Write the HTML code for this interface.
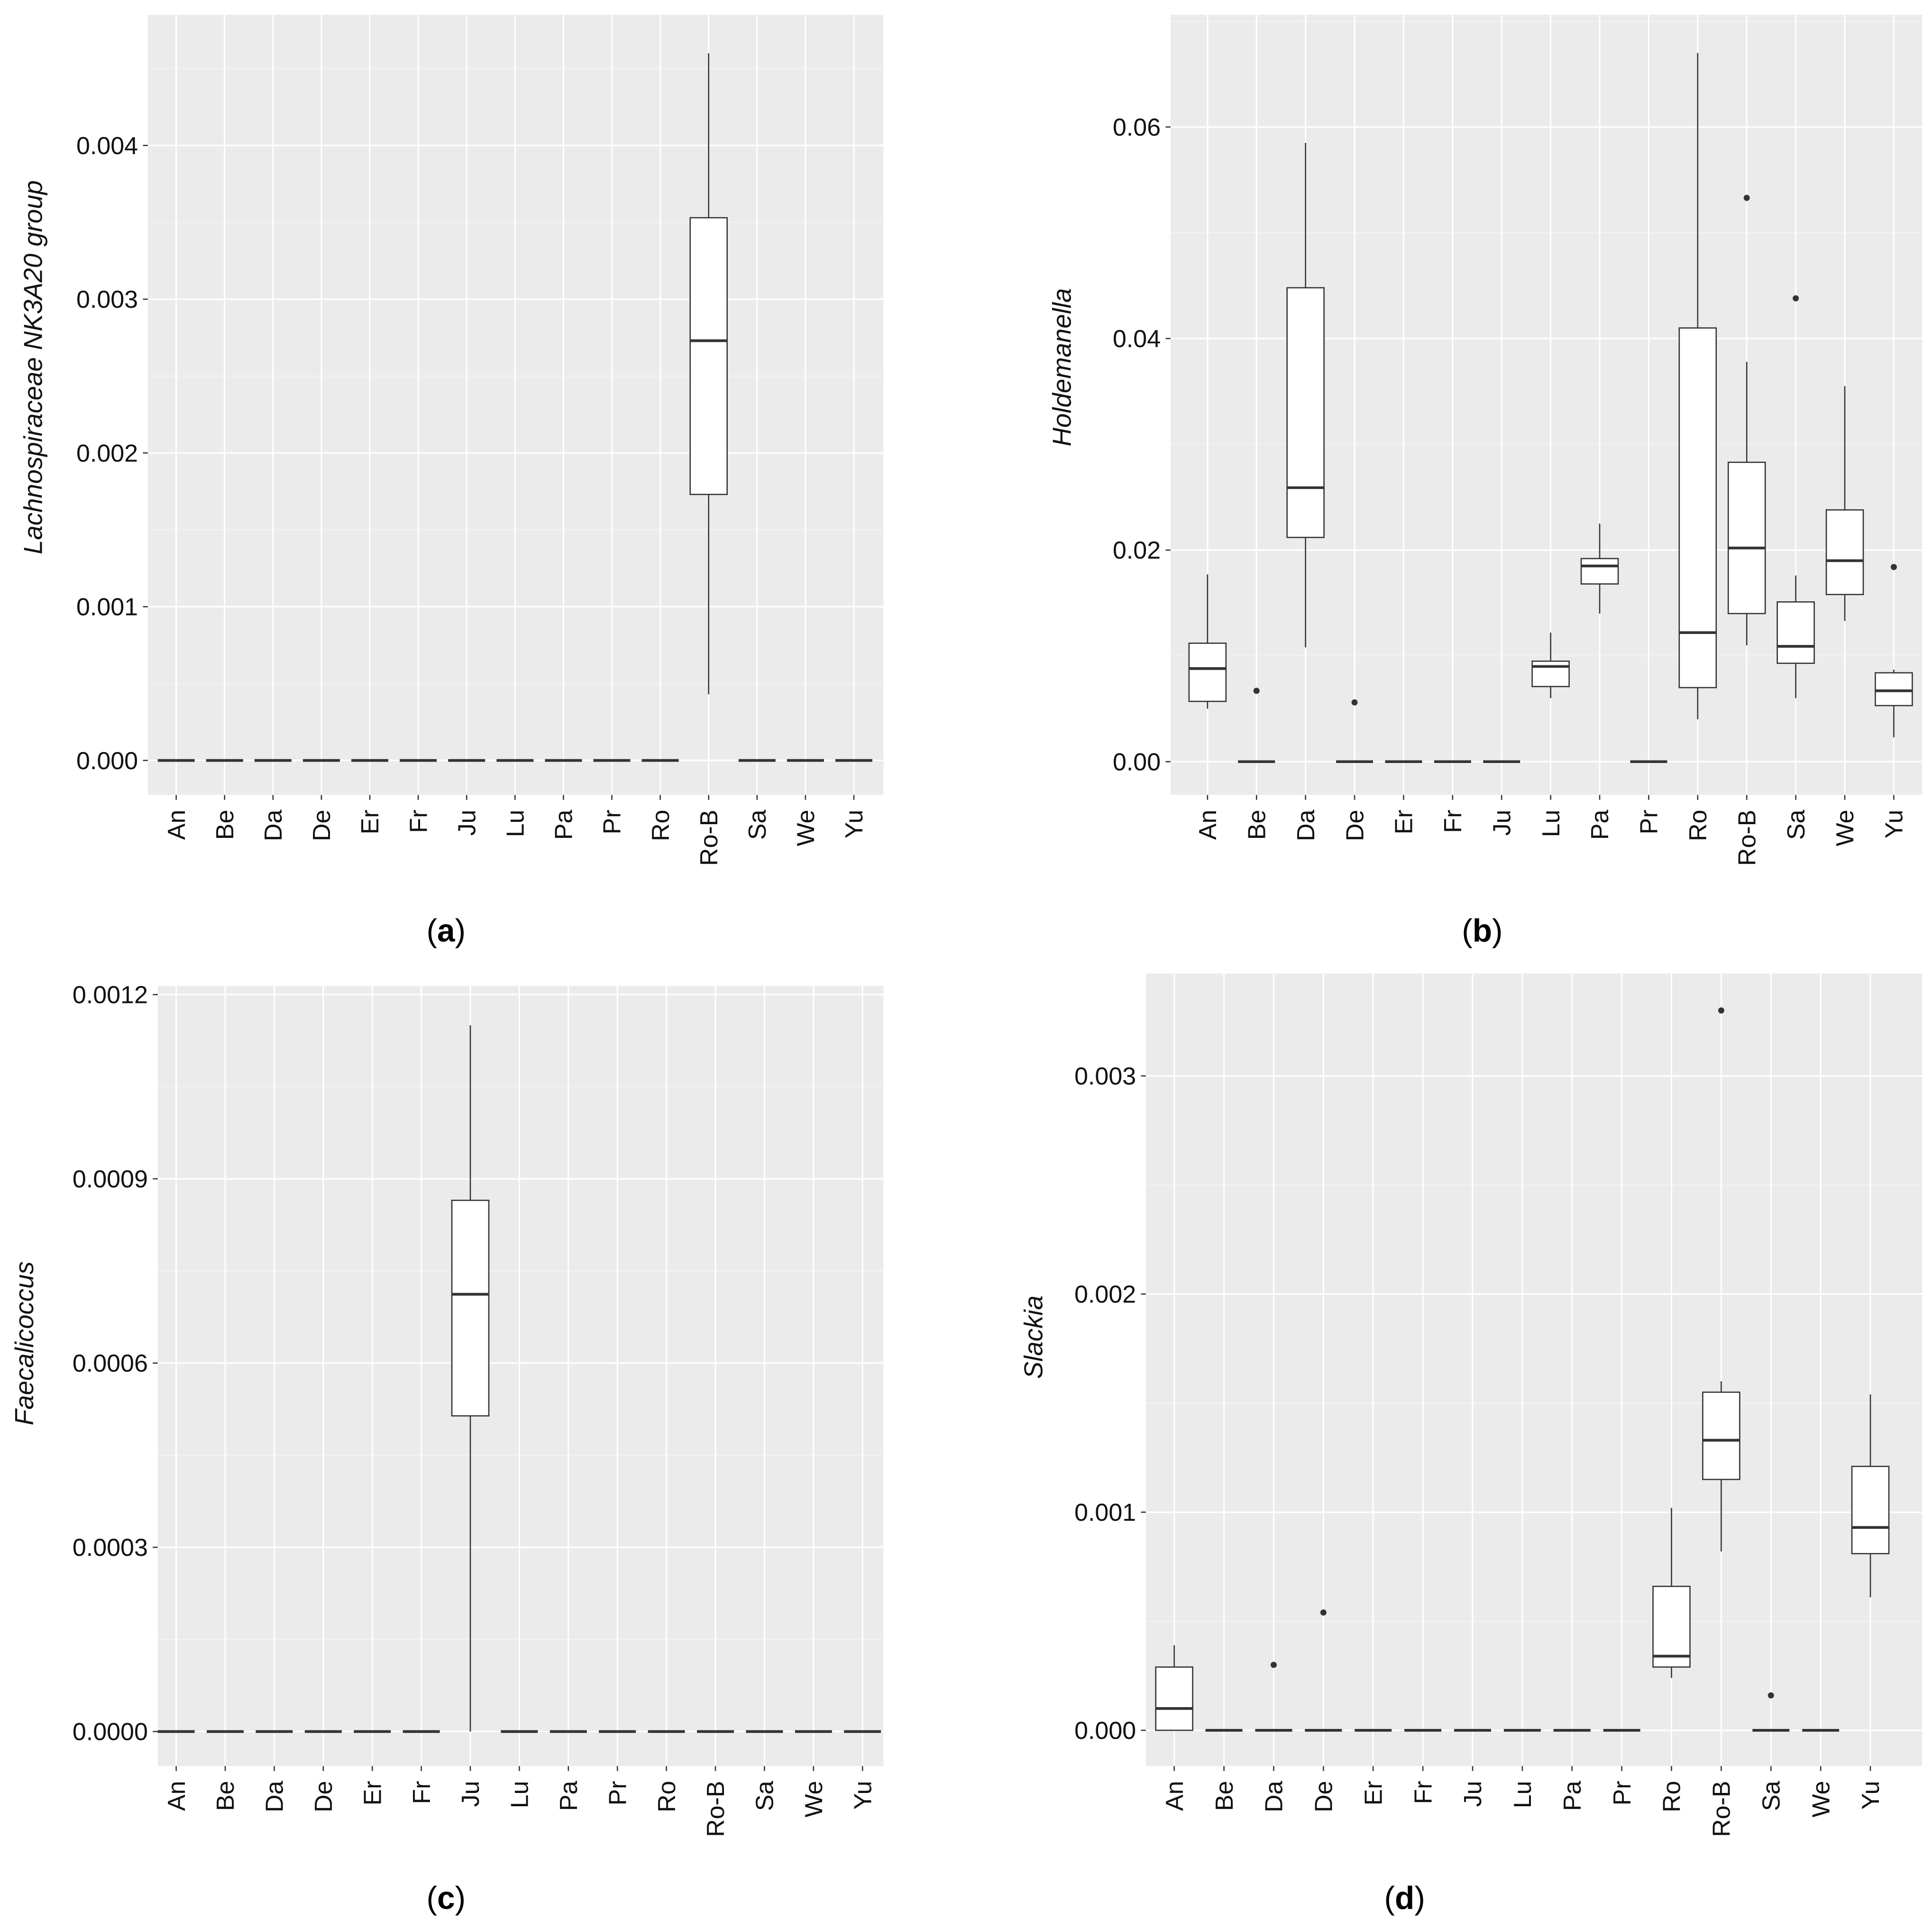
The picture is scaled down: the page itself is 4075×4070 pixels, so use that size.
<!DOCTYPE html>
<html><head><meta charset="utf-8">
<style>
html,body{margin:0;padding:0;background:#fff;}
svg{display:block;}
text{font-family:"Liberation Sans",sans-serif;}
</style></head>
<body>
<svg id="fig" width="4075" height="4070" viewBox="0 0 1568 1566" xmlns="http://www.w3.org/2000/svg"></svg>
<script>
const categories=["An","Be","Da","De","Er","Fr","Ju","Lu","Pa","Pr","Ro","Ro-B","Sa","We","Yu"];
// each box: [min,q1,median,q3,max]
const aBoxes=[[0,0,0,0,0],[0,0,0,0,0],[0,0,0,0,0],[0,0,0,0,0],[0,0,0,0,0],[0,0,0,0,0],[0,0,0,0,0],[0,0,0,0,0],[0,0,0,0,0],[0,0,0,0,0],[0,0,0,0,0],[0.00043,0.00173,0.00273,0.00353,0.0046],[0,0,0,0,0],[0,0,0,0,0],[0,0,0,0,0]];
const aOutliers=[];
const aTicks=[0,0.001,0.002,0.003,0.004];
const aTickLabels=["0.000","0.001","0.002","0.003","0.004"];
const bBoxes=[[0.005,0.0057,0.0088,0.0112,0.0177],[0,0,0,0,0],[0.0108,0.0212,0.0259,0.0448,0.0585],[0,0,0,0,0],[0,0,0,0,0],[0,0,0,0,0],[0,0,0,0,0],[0.006,0.0071,0.009,0.0095,0.0122],[0.014,0.0168,0.0185,0.0192,0.0225],[0,0,0,0,0],[0.004,0.007,0.0122,0.041,0.067],[0.011,0.014,0.0202,0.0283,0.0378],[0.006,0.0093,0.0109,0.0151,0.0176],[0.0133,0.0158,0.019,0.0238,0.0355],[0.0023,0.0053,0.0067,0.0084,0.0087]];
const bOutliers=[[1,0.0067],[3,0.0056],[11,0.0533],[12,0.0438],[14,0.0184]];
const bTicks=[0,0.02,0.04,0.06];
const bTickLabels=["0.00","0.02","0.04","0.06"];
const cBoxes=[[0,0,0,0,0],[0,0,0,0,0],[0,0,0,0,0],[0,0,0,0,0],[0,0,0,0,0],[0,0,0,0,0],[0,0.000514,0.000712,0.000865,0.00115],[0,0,0,0,0],[0,0,0,0,0],[0,0,0,0,0],[0,0,0,0,0],[0,0,0,0,0],[0,0,0,0,0],[0,0,0,0,0],[0,0,0,0,0]];
const cOutliers=[];
const cTicks=[0,0.0003,0.0006,0.0009,0.0012];
const cTickLabels=["0.0000","0.0003","0.0006","0.0009","0.0012"];
const dBoxes=[[0,0,0.0001,0.00029,0.00039],[0,0,0,0,0],[0,0,0,0,0],[0,0,0,0,0],[0,0,0,0,0],[0,0,0,0,0],[0,0,0,0,0],[0,0,0,0,0],[0,0,0,0,0],[0,0,0,0,0],[0.00024,0.00029,0.00034,0.00066,0.00102],[0.00082,0.00115,0.00133,0.00155,0.0016],[0,0,0,0,0],[0,0,0,0,0],[0.00061,0.00081,0.00093,0.00121,0.00154]];
const dOutliers=[[2,0.0003],[3,0.00054],[11,0.0033],[12,0.00016]];
const dTicks=[0,0.001,0.002,0.003];
const dTickLabels=["0.000","0.001","0.002","0.003"];

const NS="http://www.w3.org/2000/svg";
const svg=document.getElementById('fig');
function mk(tag,attrs,parent){const e=document.createElementNS(NS,tag);for(const k in attrs)e.setAttribute(k,attrs[k]);(parent||svg).appendChild(e);return e;}

function panel(cfg){
  const g=mk('g',{});
  
  
  const {x0,x1,y0,y1,v0,p0,v1,p1}=cfg;
  const ys=v=>p0+(v-v0)*(p1-p0)/(v1-v0);
  const n=categories.length;
  const xs=i=>cfg.c0+i*(cfg.cN-cfg.c0)/(n-1);
  const bg=mk('rect',{x:x0,y:y0,width:x1-x0,height:y1-y0,fill:'#ebebeb'},g);
  
  
  const ticks=cfg.ticks;
  const step=ticks[1]-ticks[0];
  for(let k=-1;k<=ticks.length;k++){
    const v=ticks[0]+(k+0.5)*step;const y=ys(v);
    if(y>y0&&y<y1) mk('line',{x1:x0,x2:x1,y1:y,y2:y,stroke:'#f5f5f5','stroke-width':0.6},g);
  }
  ticks.forEach((t,i)=>{
    const y=ys(t);
    mk('line',{x1:x0,x2:x1,y1:y,y2:y,stroke:'#fff','stroke-width':1.2},g);
    mk('line',{x1:x0-4,x2:x0,y1:y,y2:y,stroke:'#333','stroke-width':1},g);
    const tl=mk('text',{x:x0-8,y:y+7,'text-anchor':'end','font-size':20,fill:'#111'},g);
    tl.textContent=cfg.labels[i];
    
    
  });
  categories.forEach((c,i)=>{
    const x=xs(i);
    mk('line',{x1:x,x2:x,y1:y0,y2:y1,stroke:'#fff','stroke-width':1.2},g);
    mk('line',{x1:x,x2:x,y1:y1,y2:y1+4,stroke:'#333','stroke-width':1},g);
    const tl=mk('text',{x:0,y:0,'text-anchor':'end','font-size':20,fill:'#111',transform:`translate(${x+7},${y1+12}) rotate(-90)`},g);
    tl.textContent=c;
    
    
  });
  const bw=30;
  cfg.boxes.forEach((b,i)=>{
    const x=xs(i);
    const bx=mk('g',{},g);
    
    
    mk('line',{x1:x,x2:x,y1:ys(b[0]),y2:ys(b[1]),stroke:'#333','stroke-width':1},bx);
    mk('line',{x1:x,x2:x,y1:ys(b[3]),y2:ys(b[4]),stroke:'#333','stroke-width':1},bx);
    if(b[3]>b[1]) mk('rect',{x:x-bw/2,y:ys(b[3]),width:bw,height:ys(b[1])-ys(b[3]),fill:'#fff',stroke:'#333','stroke-width':1},bx);
    mk('line',{x1:x-bw/2,x2:x+bw/2,y1:ys(b[2]),y2:ys(b[2]),stroke:'#333','stroke-width':2.2},bx);
  });
  cfg.outliers.forEach(o=>{
    const c=mk('circle',{cx:xs(o[0]),cy:ys(o[1]),r:2.5,fill:'#333'},g);
    
    
  });
  const t=mk('text',{x:0,y:0,'text-anchor':'middle','font-size':21,'font-style':'italic',fill:'#111',transform:`translate(${cfg.tx},${cfg.ty}) rotate(-90)`},g);
  t.textContent=cfg.title;
  
  
  const cap=mk('text',{x:cfg.capx,y:cfg.capy,'text-anchor':'middle','font-size':26,'font-family':'Liberation Serif, serif',fill:'#000'},g);
  cap.innerHTML='(<tspan font-weight="bold">'+cfg.id+'</tspan>)';
  
  
}
panel({id:'a',x0:120,x1:717,y0:12,y1:645,v0:0,p0:617,v1:0.004,p1:118,c0:143,cN:693,boxes:aBoxes,outliers:aOutliers,ticks:aTicks,labels:aTickLabels,title:'Lachnospiraceae NK3A20 group',tx:34,ty:298,capx:362,capy:764});
panel({id:'b',x0:950,x1:1560,y0:12,y1:645,v0:0,p0:618,v1:0.06,p1:103,c0:980,cN:1537,boxes:bBoxes,outliers:bOutliers,ticks:bTicks,labels:bTickLabels,title:'Holdemanella',tx:869,ty:298,capx:1203,capy:764});
panel({id:'c',x0:128,x1:717,y0:800,y1:1433,v0:0,p0:1405,v1:0.0012,p1:807,c0:143,cN:700,boxes:cBoxes,outliers:cOutliers,ticks:cTicks,labels:cTickLabels,title:'Faecalicoccus',tx:27,ty:1090,capx:362,capy:1549});
panel({id:'d',x0:930,x1:1560,y0:790,y1:1433,v0:0,p0:1404,v1:0.003,p1:873,c0:953,cN:1518,boxes:dBoxes,outliers:dOutliers,ticks:dTicks,labels:dTickLabels,title:'Slackia',tx:846,ty:1085,capx:1140,capy:1549});
</script>
</body></html>
